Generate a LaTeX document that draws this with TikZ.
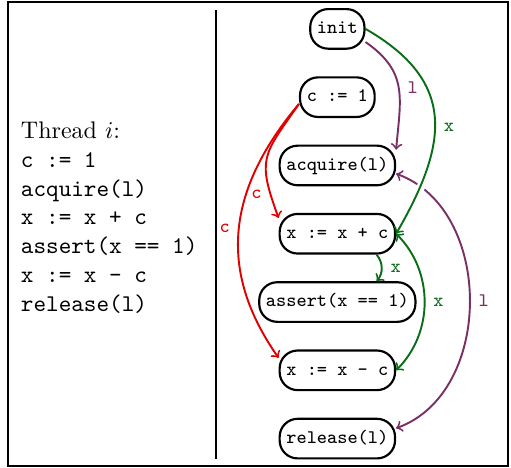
\documentclass[tikz,border=0pt]{standalone}
\usepackage{amsmath}
\definecolor{varx}{RGB}{10,110,25}
\definecolor{lockl}{RGB}{122,48,102}
\definecolor{varc}{RGB}{225,0,0}

\begin{document}
\begin{tikzpicture}[
    stmt/.style={draw, line width=0.9pt, rounded corners=7.5pt, font=\ttfamily\footnotesize,
        inner xsep=2.8pt, minimum height=0.58cm, text height=5.6pt, text depth=1.6pt},
    dep/.style={->, thick},
    lbl/.style={font=\ttfamily\footnotesize},
    halo/.style={preaction={draw, -, white, line width=3.5pt, shorten <=3pt, shorten >=5pt}}
]
    \useasboundingbox (0,0) rectangle (7.483,6.853);

    % Kader en scheidingslijn
    \draw[line width=1pt] (0.114,0.032) rectangle (7.437,6.824);
    \draw[thick] (3.162,0.133) -- (3.162,6.707);

    % De code van thread i
    \node[anchor=north west, inner sep=0pt, align=left] (code) at (0.30,5.077)
        {Thread $i$:\\ \texttt{c := 1}\\ \texttt{acquire(l)}\\ \texttt{x := x + c}\\
         \texttt{assert(x == 1)}\\ \texttt{x := x - c}\\ \texttt{release(l)}};

    % De opdrachten als knopen
    \node[stmt] (init) at (4.94,6.43) {init};
    \node[stmt] (c1)   at (4.94,5.43) {c := 1};
    \node[stmt] (acq)  at (4.94,4.43) {acquire(l)};
    \node[stmt] (xpc)  at (4.94,3.43) {x := x + c};
    \node[stmt] (asrt) at (4.94,2.43) {assert(x == 1)};
    \node[stmt] (xmc)  at (4.94,1.43) {x := x - c};
    \node[stmt] (rel)  at (4.94,0.43) {release(l)};

    % Afhankelijkheden via c
    \draw[dep, varc] (c1.190) to[out=235, in=110, looseness=1.4] node[pos=0.85, left, lbl] {c} (xpc.165);
    \draw[dep, varc] (c1.190) to[out=230, in=125, looseness=1.1] node[pos=0.5, left, lbl] {c} (xmc.168);

    % Afhankelijkheden via l
    \draw[dep, lockl] (init.-25) to[out=-35, in=85, looseness=1.2] node[pos=0.5, right, lbl] {l} (acq.15);
    \draw[dep, <->, lockl] (acq.-8) to[out=-20, in=20, looseness=1.05] node[pos=0.5, right, lbl] {l} (rel.10);

    % Afhankelijkheden via x
    \draw[dep, varx, halo] (init.east) to[out=-30, in=60, looseness=1.3] node[pos=0.55, right, lbl] {x} (xpc.east);
    \draw[dep, <->, varx] (xpc.east) to[out=-45, in=45] node[right, lbl] {x} (xmc.east);
    \draw[dep, varx] (xpc.-28) to[bend left=40] node[right, lbl] {x} (asrt.28);

\end{tikzpicture}
\end{document}
